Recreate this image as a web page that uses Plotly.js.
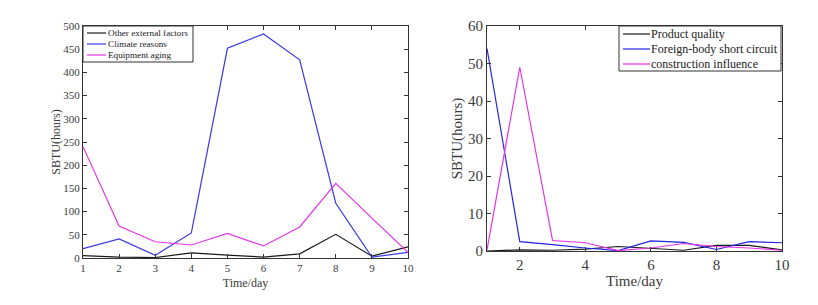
<!DOCTYPE html>
<html><head><meta charset="utf-8">
<script src="https://cdn.plot.ly/plotly-3.0.1.min.js"></script>
<style>html,body{margin:0;padding:0;background:#fff}</style>
</head><body>
<div id="chart" style="width:818px;height:305px"></div>
<script>
const days = [1,2,3,4,5,6,7,8,9,10];
const otherExternal = [5, 2, 1, 11, 6, 2, 9, 51, 4, 24];
const climateReasons = [20, 41, 6, 54, 452, 483, 427, 118, 2, 12];
const equipmentAging = [240, 69, 35, 28, 53, 26, 67, 161, 86, 12];
const productQuality = [0, 0.3, 0.2, 0.5, 1.2, 0.8, 0.2, 1.5, 1.5, 0.3];
const foreignBody = [54, 2.5, 1.7, 0.8, 0.1, 2.7, 2.3, 0.4, 2.5, 2.2];
const constructionInfluence = [0.3, 49, 2.8, 2.2, 0.1, 0.8, 2.0, 1.2, 0.8, 0.2];
const leftNames = ['Other external factors', 'Climate reasons', 'Equipment aging'];
const rightNames = ['Product quality', 'Foreign-body short circuit', 'construction influence'];
const leftTicks = [1,2,3,4,5,6,7,8,9,10];
const rightTicks = [2,4,6,8,10];

const W = 818, H = 305;
const font = '"Liberation Serif", "Times New Roman", serif';
const txt = '#3a3a3a';
const leftColors = ['#1a1a1a', '#3a3ae6', '#e633e6'];
const rightColors = ['#1a1a1a', '#2222e6', '#e633e6'];
function ln(color){return {color:color, width:1.2};}
const leftData = [otherExternal, climateReasons, equipmentAging];
const rightData = [productQuality, foreignBody, constructionInfluence];
const traces = [];
leftData.forEach((d,i)=>traces.push({x:days, y:d, name:leftNames[i], mode:'lines', line:ln(leftColors[i]), xaxis:'x', yaxis:'y'}));
rightData.forEach((d,i)=>traces.push({x:days, y:d, name:rightNames[i], mode:'lines', line:ln(rightColors[i]), xaxis:'x2', yaxis:'y2'}));

function ax(extra){
  return Object.assign({
    showgrid:false, zeroline:false, showline:true, linecolor:'#333', linewidth:1,
    mirror:'ticks', ticks:'inside', ticklen:4, tickcolor:'#333',
    tickfont:{family:font, size:11, color:txt}
  }, extra);
}
const px = v => v / W, py = v => (H - v) / H;
const shapes = [], annotations = [];
function legendBox(x0, x1, y0, y1, lx0, lx1, tx, rows, names, colors, fs){
  shapes.push({type:'rect', xref:'paper', yref:'paper', x0:px(x0), x1:px(x1), y0:py(y1), y1:py(y0),
    line:{color:'#333', width:1}, fillcolor:'#fff', layer:'above'});
  names.forEach((n,i)=>{
    shapes.push({type:'line', xref:'paper', yref:'paper', x0:px(lx0), x1:px(lx1), y0:py(rows[i]), y1:py(rows[i]),
      line:{color:colors[i], width:1.2}, layer:'above'});
    annotations.push({xref:'paper', yref:'paper', x:px(tx), y:py(rows[i]), xanchor:'left', yanchor:'middle',
      text:n, showarrow:false, font:{family:font, size:fs, color:'#222'}});
  });
}
legendBox(83, 193, 26, 62, 87, 106, 106, [33, 44, 55], leftNames, leftColors, 9.2);
legendBox(619, 781, 26, 71, 623, 650, 649, [34, 49, 64], rightNames, rightColors, 12);

const layout = {
  width:W, height:H, margin:{l:0,r:0,t:0,b:0},
  paper_bgcolor:'#fff', plot_bgcolor:'#fff',
  showlegend:false, shapes:shapes, annotations:annotations,
  xaxis: ax({domain:[px(83), px(408)], range:[1,10], tickvals:leftTicks, anchor:'y',
    title:{text:'Time/day', font:{family:font, size:12, color:txt}, standoff:5}}),
  yaxis: ax({domain:[py(258), py(26)], range:[0,500], dtick:50, anchor:'x',
    title:{text:'SBTU(hours)', font:{family:font, size:12, color:txt}, standoff:0}}),
  xaxis2: ax({domain:[px(487), px(782)], range:[1,10], tickvals:rightTicks, anchor:'y2',
    tickfont:{family:font, size:15, color:txt},
    title:{text:'Time/day', font:{family:font, size:15, color:txt}, standoff:2}}),
  yaxis2: ax({domain:[py(251), py(26)], range:[0,60], dtick:10, anchor:'x2',
    tickfont:{family:font, size:15, color:txt},
    title:{text:'SBTU(hours)', font:{family:font, size:15, color:txt}, standoff:1}})
};
Plotly.newPlot('chart', traces, layout, {displayModeBar:false, staticPlot:true});
</script>
</body></html>
